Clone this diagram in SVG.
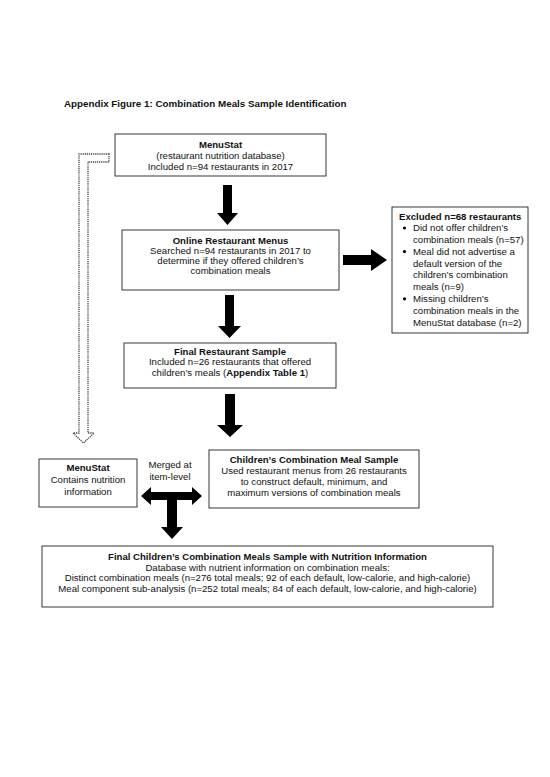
<svg xmlns="http://www.w3.org/2000/svg" width="550" height="777" viewBox="0 0 550 777">
<style>
text{font-family:"Liberation Sans",Arial,sans-serif;font-size:9.6px;fill:#111}
.b{font-weight:bold}
.c{text-anchor:middle}
.box{fill:#fff;stroke:#222;stroke-width:0.9}
.arr{fill:#000}
.dash{fill:#fff;stroke:#444;stroke-width:1.3;stroke-dasharray:1.2 0.9}
</style>
<rect width="550" height="777" fill="#fff"/>
<text x="64" y="106.5" class="b" style="font-size:9.8px">Appendix Figure 1: Combination Meals Sample Identification</text>

<g id="connectors">
<path class="dash" d="M109,154 H79 V433 H73 L83.5,443 L94,433 H88 V162 H109 Z"/>
<polygon class="arr" points="223,185 232,185 232,213 238,213 227.5,225 217,213 223,213"/>
<polygon class="arr" points="343,255 371,255 371,249 387,260 371,271 371,265 343,265"/>
<polygon class="arr" points="225,295 234,295 234,326 241,326 229.5,338 218,326 225,326"/>
<polygon class="arr" points="225,394 235,394 235,425 243,425 230,437 217,425 225,425"/>
<polygon class="arr" points="141,496 151,487 151,492 192,492 192,487 202,496 192,505 192,500 177,500 177,527 183,527 172,539 161,527 167,527 167,500 151,500 151,505"/>
</g>

<g id="menustat">
<rect class="box" x="115" y="134" width="211" height="42"/>
<text x="220.5" y="147.5" class="b c">MenuStat</text>
<text x="220.5" y="158.5" class="c">(restaurant nutrition database)</text>
<text x="220.5" y="169.5" class="c">Included n=94 restaurants in 2017</text>
</g>

<g id="online">
<rect class="box" x="122" y="230" width="217" height="60"/>
<text x="230.5" y="243.5" class="b c">Online Restaurant Menus</text>
<text x="230.5" y="254" class="c">Searched n=94 restaurants in 2017 to</text>
<text x="230.5" y="264" class="c">determine if they offered children’s</text>
<text x="230.5" y="274" class="c">combination meals</text>
</g>

<g id="excluded">
<rect class="box" x="392" y="207" width="136" height="126"/>
<text x="399" y="220" class="b">Excluded n=68 restaurants</text>
<circle cx="404.5" cy="228" r="1.6"/>
<text x="413" y="231.2">Did not offer children’s</text>
<text x="413" y="243">combination meals (n=57)</text>
<circle cx="404.5" cy="251.6" r="1.6"/>
<text x="413" y="254.8">Meal did not advertise a</text>
<text x="413" y="266.6">default version of the</text>
<text x="413" y="278.4">children’s combination</text>
<text x="413" y="290.2">meals (n=9)</text>
<circle cx="404.5" cy="298.8" r="1.6"/>
<text x="413" y="302">Missing children’s</text>
<text x="413" y="313.8">combination meals in the</text>
<text x="413" y="325.6">MenuStat database (n=2)</text>
</g>

<g id="final-restaurant">
<rect class="box" x="124" y="343" width="212" height="45"/>
<text x="230" y="354.5" class="b c">Final Restaurant Sample</text>
<text x="230" y="365" class="c">Included n=26 restaurants that offered</text>
<text x="230" y="375.5" class="c">children’s meals (<tspan class="b">Appendix Table 1</tspan>)</text>
</g>

<g id="menustat-nutrition">
<rect class="box" x="39" y="459" width="98" height="48"/>
<text x="88" y="470.5" class="b c">MenuStat</text>
<text x="88" y="483" class="c">Contains nutrition</text>
<text x="88" y="495" class="c">information</text>
</g>

<g id="merge-label">
<text x="170" y="468" class="c">Merged at</text>
<text x="170" y="480" class="c">item-level</text>
</g>

<g id="childrens-sample">
<rect class="box" x="209" y="450" width="210" height="58"/>
<text x="314" y="462.5" class="b c">Children’s Combination Meal Sample</text>
<text x="314" y="473.5" class="c">Used restaurant menus from 26 restaurants</text>
<text x="314" y="485" class="c">to construct default, minimum, and</text>
<text x="314" y="496" class="c">maximum versions of combination meals</text>
</g>

<g id="final-sample">
<rect class="box" x="42" y="546" width="451" height="61"/>
<text x="267.5" y="560" class="b c">Final Children’s Combination Meals Sample with Nutrition Information</text>
<text x="267.5" y="570.5" class="c">Database with nutrient information on combination meals:</text>
<text x="267.5" y="581" class="c">Distinct combination meals (n=276 total meals; 92 of each default, low-calorie, and high-calorie)</text>
<text x="267.5" y="591.5" class="c">Meal component sub-analysis (n=252 total meals; 84 of each default, low-calorie, and high-calorie)</text>
</g>
</svg>
